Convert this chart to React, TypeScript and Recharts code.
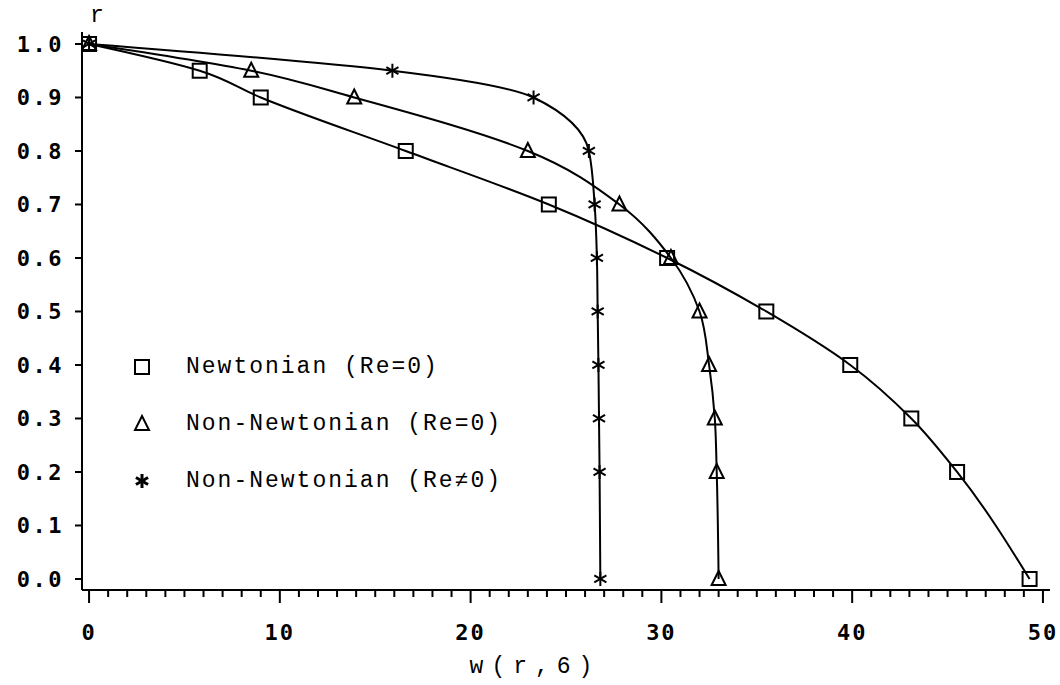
import React from "react";
import { LineChart, Line, XAxis, YAxis, Legend, Label } from "recharts";

// radius values where the markers sit (no marker at 0.1)
const rValues = [1.0, 0.95, 0.9, 0.8, 0.7, 0.6, 0.5, 0.4, 0.3, 0.2, 0.0];
const newtonianW = [0, 5.8, 9.0, 16.6, 24.1, 30.3, 35.5, 39.9, 43.1, 45.5, 49.3];
const nonNewtonianW = [0, 8.5, 13.9, 23.0, 27.8, 30.5, 32.0, 32.5, 32.8, 32.9, 33.0];
const nonNewtonianReW = [0, 15.9, 23.3, 26.2, 26.5, 26.62, 26.66, 26.7, 26.73, 26.76, 26.8];

const xTicks = Array.from({ length: 51 }, (_, i) => i);
const yTicks = [0, 0.1, 0.2, 0.3, 0.4, 0.5, 0.6, 0.7, 0.8, 0.9, 1.0];

const toPoints = (ws: number[]) => ws.map((w, i) => ({ w, r: rValues[i] }));
const newtonian = toPoints(newtonianW);
const nonNewtonian = toPoints(nonNewtonianW);
const nonNewtonianRe = toPoints(nonNewtonianReW);

const TICK_FONT = "'DejaVu Sans Mono', monospace";
const TEXT_FONT = "'Liberation Mono', 'Courier New', monospace";

const SquareMark = ({ cx, cy }: any) => (
  <rect x={cx - 7} y={cy - 7} width={14} height={14} fill="none" stroke="#000" strokeWidth={2} />
);

const TriangleMark = ({ cx, cy }: any) => (
  <path
    d={`M${cx},${cy - 8} L${cx + 7},${cy + 6} L${cx - 7},${cy + 6} Z`}
    fill="none"
    stroke="#000"
    strokeWidth={2}
  />
);

const StarMark = ({ cx, cy, bold }: any) => {
  const s = 7;
  const dx = s * Math.cos(Math.PI / 6);
  const dy = s * Math.sin(Math.PI / 6);
  return (
    <g stroke="#000" strokeWidth={bold ? 3 : 2}>
      <line x1={cx} y1={cy - s} x2={cx} y2={cy + s} />
      <line x1={cx - dx} y1={cy - dy} x2={cx + dx} y2={cy + dy} />
      <line x1={cx - dx} y1={cy + dy} x2={cx + dx} y2={cy - dy} />
    </g>
  );
};

const XTick = ({ x, y, payload }: any) => {
  const major = payload.value % 10 === 0;
  return (
    <g>
      <line x1={x} y1={y} x2={x} y2={y + (major ? 13 : 7)} stroke="#000" strokeWidth={2} />
      {major && (
        <text
          x={x}
          y={y + 50}
          textAnchor="middle"
          fontFamily={TICK_FONT}
          fontWeight="bold"
          fontSize={22}
          letterSpacing={2}
          fill="#000"
        >
          {payload.value}
        </text>
      )}
    </g>
  );
};

const YTick = ({ x, y, payload }: any) => (
  <g>
    <line x1={x - 7} y1={y} x2={x} y2={y} stroke="#000" strokeWidth={2} />
    <text
      x={x - 18}
      y={y + 8}
      textAnchor="end"
      fontFamily={TICK_FONT}
      fontWeight="bold"
      fontSize={22}
      letterSpacing={2.5}
      fill="#000"
    >
      {payload.value.toFixed(1)}
    </text>
  </g>
);

const legendItems = [
  { label: "Newtonian (Re=0)", Mark: SquareMark },
  { label: "Non-Newtonian (Re=0)", Mark: TriangleMark },
  { label: "Non-Newtonian (Re\u22600)", Mark: StarMark },
];

const LegendBox = () => (
  <div>
    {legendItems.map(({ label, Mark }) => (
      <div key={label} style={{ display: "flex", alignItems: "center", height: 57 }}>
        <svg width={24} height={24} style={{ marginRight: 32 }}>
          <Mark cx={12} cy={12} bold />
        </svg>
        <span
          style={{
            fontFamily: TEXT_FONT,
            fontSize: 23,
            letterSpacing: 2,
            color: "#000",
          }}
        >
          {label}
        </span>
      </div>
    ))}
  </div>
);

export default function App() {
  return (
    <div style={{ position: "absolute", left: 0, top: 0, background: "#fff" }}>
      <LineChart
        width={1060}
        height={685}
        margin={{ top: 32, right: 10, bottom: 0, left: 0 }}
      >
        <XAxis
          dataKey="w"
          type="number"
          domain={[-0.37, 50.37]}
          ticks={xTicks}
          interval={0}
          allowDataOverflow
          height={95}
          axisLine={{ stroke: "#000", strokeWidth: 2 }}
          tickLine={false}
          tickSize={0}
          tickMargin={0}
          tick={<XTick />}
        >
          <Label
            content={({ viewBox }: any) => (
              <text
                x={viewBox.x + viewBox.width / 2 - 31}
                y={viewBox.y + 83}
                textAnchor="middle"
                fontFamily={TEXT_FONT}
                fontSize={23}
                letterSpacing={8}
                fill="#000"
              >
                w(r,6)
              </text>
            )}
          />
        </XAxis>
        <YAxis
          dataKey="r"
          type="number"
          domain={[-0.0206, 1.0224]}
          ticks={yTicks}
          interval={0}
          allowDataOverflow
          width={82}
          axisLine={{ stroke: "#000", strokeWidth: 2 }}
          tickLine={false}
          tickSize={0}
          tickMargin={0}
          tick={<YTick />}
        >
          <Label
            content={({ viewBox }: any) => (
              <text
                x={viewBox.x + viewBox.width + 15}
                y={viewBox.y - 10}
                textAnchor="middle"
                fontFamily={TEXT_FONT}
                fontSize={23}
                fill="#000"
              >
                r
              </text>
            )}
          />
        </YAxis>
        <Legend
          layout="vertical"
          align="center"
          verticalAlign="middle"
          content={<LegendBox />}
          wrapperStyle={{ position: "absolute", left: 130, top: 338, width: "auto" }}
        />
        <Line
          data={newtonian}
          dataKey="r"
          type="monotoneY"
          stroke="#000"
          strokeWidth={2}
          dot={<SquareMark />}
          activeDot={false}
          isAnimationActive={false}
          name="Newtonian (Re=0)"
        />
        <Line
          data={nonNewtonian}
          dataKey="r"
          type="monotoneY"
          stroke="#000"
          strokeWidth={2}
          dot={<TriangleMark />}
          activeDot={false}
          isAnimationActive={false}
          name="Non-Newtonian (Re=0)"
        />
        <Line
          data={nonNewtonianRe}
          dataKey="r"
          type="monotoneY"
          stroke="#000"
          strokeWidth={2}
          dot={<StarMark />}
          activeDot={false}
          isAnimationActive={false}
          name="Non-Newtonian (Re≠0)"
        />
      </LineChart>
    </div>
  );
}
